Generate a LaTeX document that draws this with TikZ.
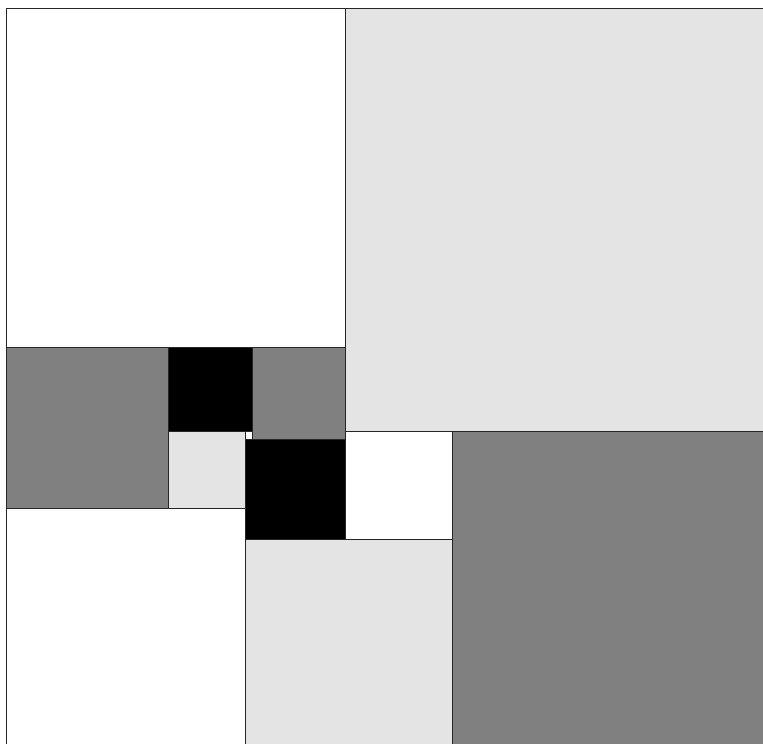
\documentclass[tikz,border=0pt]{standalone}
\definecolor{midgray}{RGB}{128,128,128}
\definecolor{lightgray}{RGB}{228,228,228}
\tikzset{tile/.style={draw=black!85, line width=0.7pt}}
\begin{document}
\begin{tikzpicture}[x=1pt,y=-1pt]
\useasboundingbox (0,0) rectangle (763,744);
\clip (0,0) rectangle (763,744);
\fill[white] (0,0) rectangle (763,744);
\begin{scope}[shift={(6.5,8.5)}, x=7.693pt, y=-7.693pt]
\foreach \px/\py/\s/\c in {0/0/44/white, 44/0/55/lightgray, 0/44/21/midgray, 21/44/11/black, 32/44/12/midgray, 21/55/10/lightgray, 31/55/1/white, 31/56/13/black, 44/55/14/white, 58/55/41/midgray, 31/69/27/lightgray, 0/65/31/white}
  \filldraw[tile, fill=\c] (\px,\py) rectangle ++(\s,\s);
\end{scope}
\end{tikzpicture}
\end{document}
